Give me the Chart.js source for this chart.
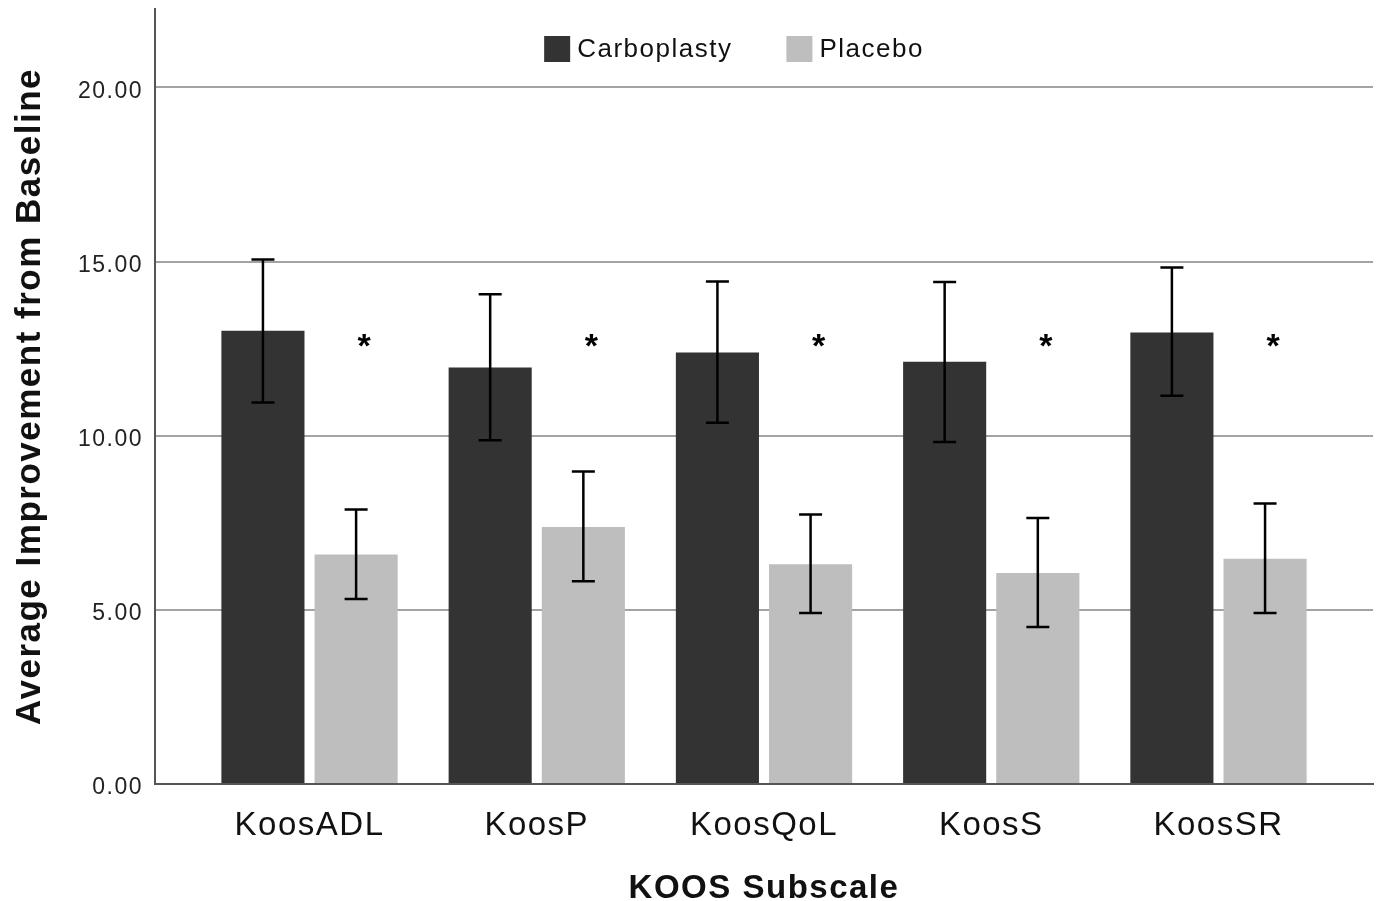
<!DOCTYPE html>
<html>
<head>
<meta charset="utf-8">
<title>KOOS Subscale</title>
<script src="https://cdn.jsdelivr.net/npm/chart.js@4.4.1/dist/chart.umd.min.js"></script>
<style>
  html, body { margin: 0; padding: 0; background: #fff; }
  #wrap { width: 1380px; height: 901px; }
</style>
</head>
<body>
<div id="wrap"><canvas id="koosChart"></canvas></div>
<script>
const categories = ['KoosADL', 'KoosP', 'KoosQoL', 'KoosS', 'KoosSR'];
const seriesNames = ['Carboplasty', 'Placebo'];

// mean improvement and error bar ends
const carboMean = [13.01, 11.96, 12.39, 12.12, 12.96];
const carboLow = [10.95, 9.87, 10.37, 9.82, 11.15];
const carboHigh = [15.06, 14.06, 14.43, 14.41, 14.83];
const placeboMean = [6.59, 7.38, 6.31, 6.06, 6.47];
const placeboLow = [5.31, 5.82, 4.91, 4.51, 4.91];
const placeboHigh = [7.88, 8.97, 7.74, 7.64, 8.05];

const significant = [true, true, true, true, true];
const starLevel = 12.25;
const yTicks = [0, 5, 10, 15, 20];
const yMax = 22.25;

const FONT = '"Liberation Sans", Arial, Helvetica, sans-serif';

// SPSS-style text is slightly tracked
const tracking = {
    id: 'tracking',
    beforeUpdate(chart) { chart.ctx.letterSpacing = '1.5px'; },
    beforeDraw(chart) { chart.ctx.letterSpacing = '1.5px'; }
};

const errorBars = {
    id: 'errorBars',
    afterDatasetsDraw(chart) {
        const ctx = chart.ctx;
        const y = chart.scales.y;
        const ranges = [[carboLow, carboHigh], [placeboLow, placeboHigh]];
        ctx.save();
        ctx.strokeStyle = '#000';
        ctx.lineWidth = 2.5;
        ranges.forEach(([lo, hi], d) => {
            chart.getDatasetMeta(d).data.forEach((bar, i) => {
                const top = y.getPixelForValue(hi[i]);
                const bot = y.getPixelForValue(lo[i]);
                ctx.beginPath();
                ctx.moveTo(bar.x, top); ctx.lineTo(bar.x, bot);
                ctx.moveTo(bar.x - 11.5, top); ctx.lineTo(bar.x + 11.5, top);
                ctx.moveTo(bar.x - 11.5, bot); ctx.lineTo(bar.x + 11.5, bot);
                ctx.stroke();
            });
        });

        // significance stars next to the placebo bars
        ctx.letterSpacing = '0px';
        ctx.fillStyle = '#000';
        ctx.font = 'bold 34px ' + FONT;
        ctx.textAlign = 'center';
        ctx.textBaseline = 'alphabetic';
        chart.getDatasetMeta(1).data.forEach((bar, i) => {
            if (significant[i]) ctx.fillText('*', bar.x + 8, y.getPixelForValue(starLevel));
        });
        ctx.restore();
    }
};

// legend sits inside the plot, near the top
const insideLegend = {
    id: 'insideLegend',
    afterDraw(chart) {
        const ctx = chart.ctx;
        const area = chart.chartArea;
        ctx.save();
        ctx.font = '26px ' + FONT;
        ctx.textBaseline = 'middle';
        ctx.textAlign = 'left';
        const box = 26, gapText = 7, gapItem = 54;
        const items = chart.data.datasets.map(ds => ({
            label: ds.label,
            color: ds.backgroundColor,
            w: ctx.measureText(ds.label).width
        }));
        const total = items.reduce((s, it) => s + box + gapText + it.w, 0) + gapItem * (items.length - 1);
        let x = (area.left + area.right) / 2 - 30 - total / 2;
        const cy = area.top + 40;
        items.forEach(it => {
            ctx.fillStyle = it.color;
            ctx.fillRect(x, cy - box / 2, box, box);
            x += box + gapText;
            ctx.fillStyle = '#111';
            ctx.fillText(it.label, x, cy + 1);
            x += it.w + gapItem;
        });
        ctx.restore();
    }
};

const toPoints = arr => arr.map((v, i) => ({ x: i, y: v }));

new Chart(document.getElementById('koosChart'), {
    type: 'bar',
    data: {
        datasets: [
            { label: seriesNames[0], data: toPoints(carboMean), backgroundColor: '#333333' },
            { label: seriesNames[1], data: toPoints(placeboMean), backgroundColor: '#bebebe' }
        ]
    },
    options: {
        responsive: true,
        maintainAspectRatio: false,
        animation: false,
        devicePixelRatio: 1,
        layout: { padding: { top: 9, right: 7, bottom: 0, left: 0 } },
        datasets: {
            bar: { categoryPercentage: 0.82, barPercentage: 0.892, borderWidth: 0 }
        },
        plugins: {
            legend: { display: false },
            tooltip: { enabled: false }
        },
        scales: {
            x: {
                type: 'linear',
                min: -0.68,
                max: 4.68,
                offset: false,
                grid: { display: false },
                border: { display: true, color: '#555', width: 2 },
                afterBuildTicks: s => { s.ticks = categories.map((c, i) => ({ value: i })); },
                afterFit: s => { s.height = 117; s.paddingLeft = 0; s.paddingRight = 0; },
                ticks: {
                    autoSkip: false,
                    maxRotation: 0,
                    padding: 14,
                    color: '#111',
                    font: { family: FONT, size: 33 },
                    callback: v => categories[v] ?? ''
                },
                title: {
                    display: true,
                    text: 'KOOS Subscale',
                    color: '#111',
                    padding: { top: 0, bottom: 0 },
                    font: { family: FONT, size: 33, weight: 'bold', lineHeight: 0.76 }
                }
            },
            y: {
                min: 0,
                max: yMax,
                afterBuildTicks: s => { s.ticks = yTicks.map(v => ({ value: v })); },
                afterFit: s => { s.width = 155; s.paddingTop = 0; s.paddingBottom = 0; },
                grid: {
                    drawTicks: false,
                    lineWidth: 2,
                    color: c => (c.tick && c.tick.value === 0) ? 'rgba(0,0,0,0)' : '#a3a3a3'
                },
                border: { display: true, color: '#555', width: 2 },
                ticks: {
                    padding: 12,
                    labelOffset: 4,
                    color: '#222',
                    font: { family: FONT, size: 23 },
                    callback: v => Number(v).toFixed(2)
                },
                title: {
                    display: true,
                    text: 'Average Improvement from Baseline',
                    color: '#111',
                    padding: { top: 9, bottom: 0 },
                    font: { family: FONT, size: 35, weight: 'bold' }
                }
            }
        }
    },
    plugins: [tracking, errorBars, insideLegend]
});
</script>
</body>
</html>
